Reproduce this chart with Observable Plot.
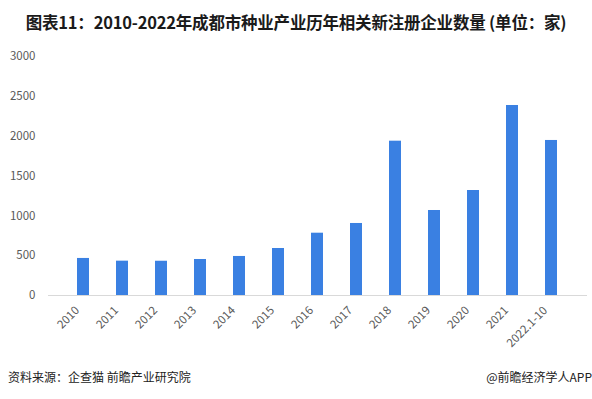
<!DOCTYPE html>
<html><head><meta charset="utf-8">
<script src="https://cdn.jsdelivr.net/npm/d3@7"></script>
<script src="https://cdn.jsdelivr.net/npm/@observablehq/plot@0.6"></script>
<style>
body{margin:0;background:#fff;font-family:"Noto Sans CJK SC","Noto Sans",sans-serif;width:592px;height:399px;overflow:hidden;position:relative}
#title{height:40px;line-height:44px;text-align:center;font-size:16.5px;font-weight:bold;color:#1a1a1a;letter-spacing:-0.2px}
#chart{height:320px}
#foot{position:absolute;top:368px;left:0;width:592px;font-size:12px;color:#222}
#foot .l{position:absolute;left:8px}
#foot .r{position:absolute;right:0px}
</style></head><body>
<div id="title">图表11：2010-2022年成都市种业产业历年相关新注册企业数量 (单位：家)</div>
<div id="chart"></div>
<div id="foot"><span class="l">资料来源：企查猫 前瞻产业研究院</span><span class="r">@前瞻经济学人APP</span></div>
<script>
const years = ["2010","2011","2012","2013","2014","2015","2016","2017","2018","2019","2020","2021","2022.1-10"];
const counts = [465, 431, 430, 452, 490, 590, 782, 904, 1937, 1067, 1318, 2385, 1946];
const yTicks = [0, 500, 1000, 1500, 2000, 2500, 3000];
const data = years.map((y, i) => ({year: y, count: counts[i]}));
const chart = Plot.plot({
  width: 592, height: 320,
  marginTop: 16, marginBottom: 65, marginLeft: 48, marginRight: 5,
  style: {fontFamily: "'Noto Sans CJK SC','Noto Sans',sans-serif", fontSize: "11px", color: "#595959", background: "#fff"},
  x: {domain: years, padding: 0.69, label: null},
  y: {domain: [0, 3000], label: null},
  marks: [
    Plot.barY(data, {x: "year", y: "count", fill: "#3a80e2"}),
    Plot.ruleY([0], {stroke: "#d9d9d9", strokeWidth: 1}),
    Plot.axisY({ticks: yTicks, tickFormat: d => String(d), tickSize: 0, tickPadding: 13, label: null, fill: "#595959", fontSize: 11.5}),
    Plot.axisX({tickSize: 0, tickRotate: -45, tickPadding: 13, dx: -6, label: null, fill: "#595959", fontSize: 11.5})
  ]
});
document.getElementById("chart").appendChild(chart);
</script>
</body></html>
